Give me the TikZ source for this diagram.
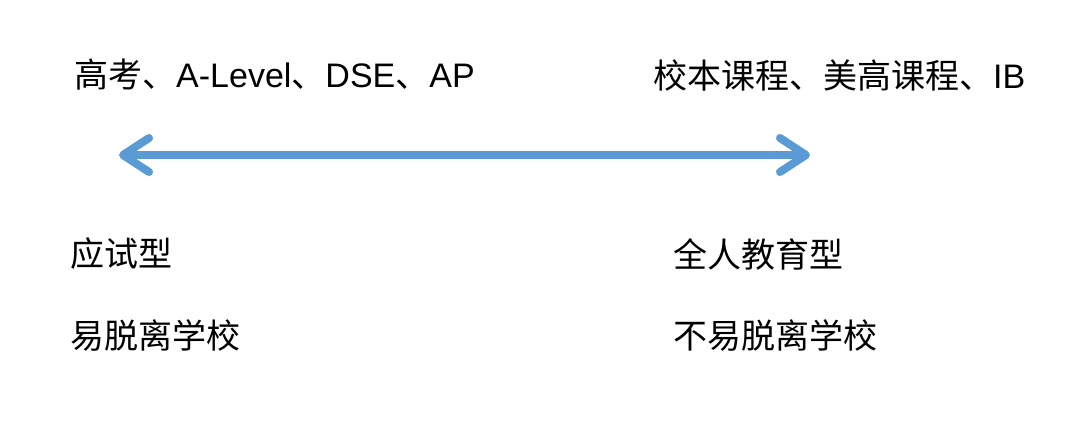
\documentclass[tikz,border=0pt]{standalone}
\usepackage{fontspec}
\setmainfont{Liberation Sans}
\newfontfamily\cjk{Noto Sans CJK SC}
\usetikzlibrary{arrows.meta}
\definecolor{barblue}{HTML}{5B9BD5}

\begin{document}
\begin{tikzpicture}[
  x=1pt,y=-1pt,
  phrase/.style={
  	anchor=west,
  	inner sep=0pt,
  	font=\fontsize{34}{40}\selectfont
  },
  spectrum/.style={
  	{Straight Barb[round,length=26pt,width=34pt]}-{Straight Barb[round,length=26pt,width=34pt]},
  	line width=8pt,
  	draw=barblue
  }
  ]
  \useasboundingbox (0,0) rectangle (1080,425);
  
  \node[phrase] (exam) at (74,75) {{\cjk 高考、}A-Level{\cjk 、}DSE{\cjk 、}AP};
  \node[phrase] (whole) at (653,75) {{\cjk 校本课程、美高课程、}IB};
  
  \coordinate (lo) at (119,155);
  \coordinate (hi) at (810,155);
  
  \node[phrase] (testtype) at (70,254) {\cjk 应试型};
  \node[phrase] (dropeasy) at (70,336) {\cjk 易脱离学校};
  \node[phrase] (persontype) at (673,254) {\cjk 全人教育型};
  \node[phrase] (dropnot) at (673,336) {\cjk 不易脱离学校};
  
  \draw[spectrum] (lo) -- (hi);
  
\end{tikzpicture}
\end{document}
